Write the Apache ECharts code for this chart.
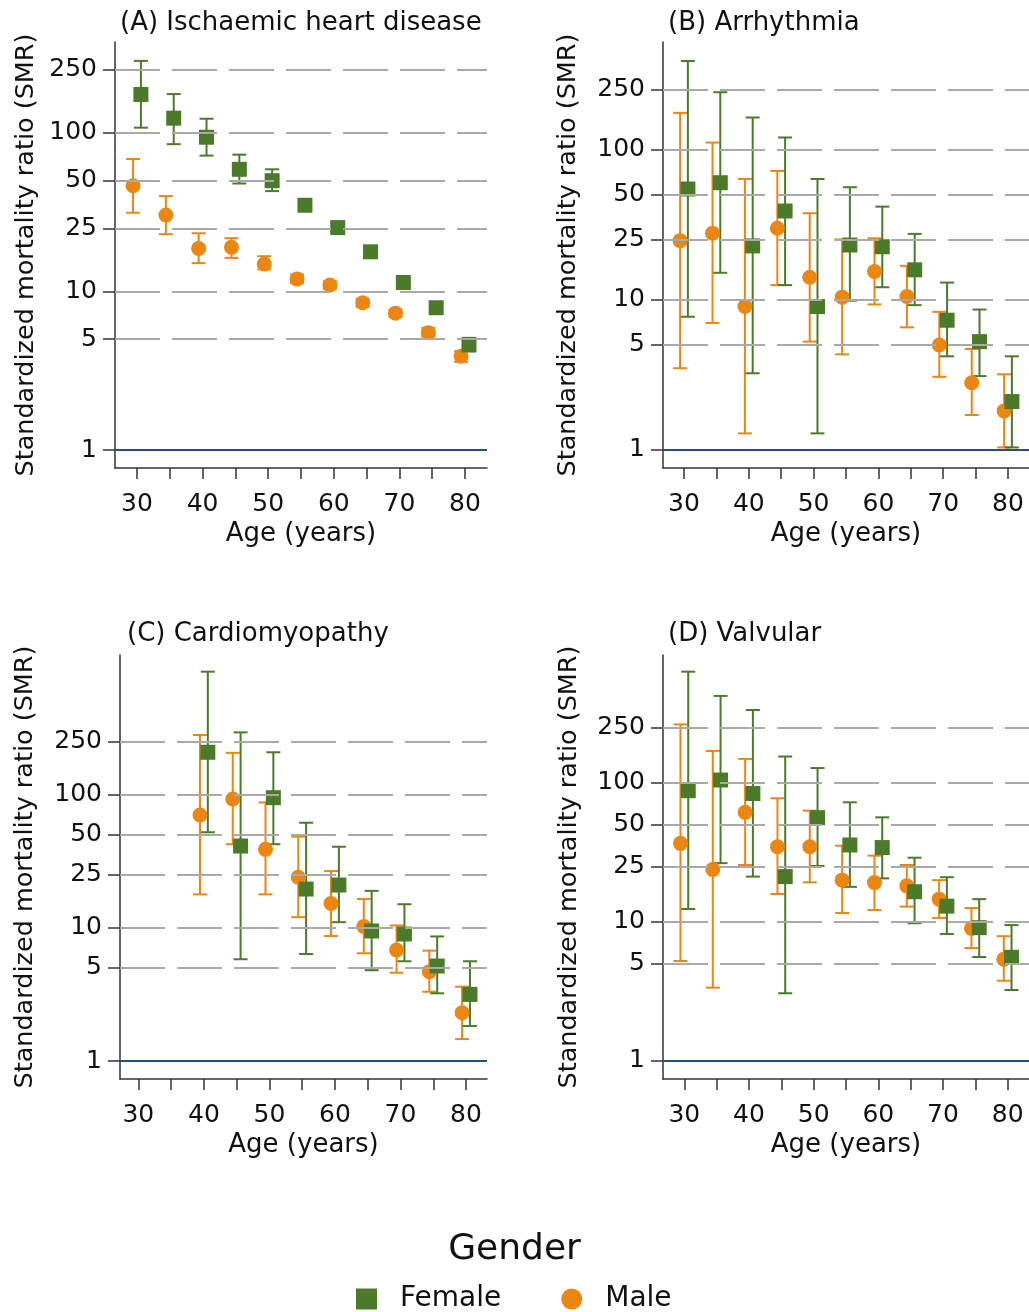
<!DOCTYPE html>
<html><head><meta charset="utf-8">
<script src="https://cdn.jsdelivr.net/npm/echarts@6/dist/echarts.min.js"></script>
<style>html,body{margin:0;padding:0;background:#fff}#c{width:1029px;height:1312px}</style>
</head><body><div id="c"></div>
<script>
// ---------- data ----------
const ages = [30, 35, 40, 45, 50, 55, 60, 65, 70, 75, 80];
const xTickValues = [30, 35, 40, 45, 50, 55, 60, 65, 70, 75, 80];
const xLabelValues = [30, 40, 50, 60, 70, 80];
const yTickValues = [1, 5, 10, 25, 50, 100, 250];
const gridValues = [5, 10, 25, 50, 100, 250];
const panelTitles = ['(A) Ischaemic heart disease', '(B) Arrhythmia', '(C) Cardiomyopathy', '(D) Valvular'];

// (A) Ischaemic heart disease
const ihdFemale   = [175, 124, 94, 59, 50, 35, 25.3, 17.8, 11.4, 7.9, 4.6];
const ihdFemaleLo = [108, 85, 72, 48, 43, 32.5, 23.8, 16.6, 10.7, 7.4, 4.2];
const ihdFemaleHi = [285, 176, 123, 73, 59, 38, 27, 19.1, 12.2, 8.4, 5.1];
const ihdMale     = [46.5, 30.4, 18.7, 19, 14.9, 12.0, 11.0, 8.5, 7.3, 5.5, 3.9];
const ihdMaleLo   = [31.4, 23, 15.1, 16.3, 13.8, 11.3, 10.4, 8.0, 6.9, 5.2, 3.6];
const ihdMaleHi   = [68.5, 40, 23.3, 21.7, 16.7, 12.8, 11.6, 9.0, 7.7, 5.9, 4.2];

// (B) Arrhythmia
const arrFemale   = [54.5, 60, 22.8, 38.9, 9.0, 23.1, 22.5, 15.8, 7.3, 5.26, 2.1];
const arrFemaleLo = [7.7, 15.1, 3.24, 12.5, 1.29, 9.85, 12.1, 9.2, 4.2, 3.1, 1.04];
const arrFemaleHi = [387, 240, 163, 120, 63.5, 56, 41.6, 27.4, 13.0, 8.6, 4.2];
const arrMale     = [24.7, 27.7, 9.0, 29.9, 14.1, 10.4, 15.4, 10.5, 5.0, 2.8, 1.82];
const arrMaleLo   = [3.5, 7.0, 1.29, 12.5, 5.26, 4.33, 9.3, 6.55, 3.07, 1.71, 1.04];
const arrMaleHi   = [175, 111, 63.5, 71.8, 37.6, 25.2, 25.6, 16.8, 8.3, 4.7, 3.19];

// (C) Cardiomyopathy
const cmFemale   = [null, null, 207, 41, 94.5, 19.5, 20.9, 9.45, 8.97, 5.16, 3.16];
const cmFemaleLo = [null, null, 52, 5.8, 42.3, 6.35, 11.0, 4.8, 5.6, 3.22, 1.83];
const cmFemaleHi = [null, null, 833, 292, 207, 61.3, 40.5, 18.9, 15.0, 8.6, 5.6];
const cmMale     = [null, null, 70, 92.4, 38.7, 23.9, 15.2, 10.2, 6.8, 4.68, 2.30];
const cmMaleLo   = [null, null, 17.8, 42.3, 17.8, 12.0, 8.67, 6.43, 4.6, 3.31, 1.46];
const cmMaleHi   = [null, null, 279, 205, 87, 48.2, 26.6, 16.4, 10.4, 6.73, 3.61];

// (D) Valvular
const valFemale   = [88, 105, 84, 21.2, 56.3, 35.8, 34.3, 16.5, 13.0, 9.1, 5.57];
const valFemaleLo = [12.4, 26.5, 21.2, 3.07, 25.3, 17.9, 20.6, 9.8, 8.2, 5.6, 3.24];
const valFemaleHi = [632, 423, 335, 155, 128, 72.6, 56.6, 29, 21.0, 14.6, 9.5];
const valMale     = [36.8, 23.9, 61.5, 34.8, 34.8, 20.0, 19.2, 18.2, 14.6, 9.0, 5.4];
const valMaleLo   = [5.24, 3.37, 25.7, 15.9, 19.3, 11.6, 12.2, 12.9, 10.7, 6.5, 3.78];
const valMaleHi   = [264, 170, 149, 77.6, 63.2, 35.4, 30, 25.7, 20.0, 12.6, 7.9];

// ---------- layout / style ----------
const GREEN = '#4b7a2b', ORANGE = '#ec8612', NAVY = '#24507f', AXIS = '#333333', TXT = '#111111';
const FONT = '"DejaVu Sans", "Liberation Sans", Arial, sans-serif';
const OFFSET = 0.6;

const panels = [
  {grid: {left: 115, top: 42, width: 372, height: 426}, xr: [26.65, 83.35], yr: [0.770, 375], nameGap: 76, title: [120, 10],
   f: [ihdFemale, ihdFemaleLo, ihdFemaleHi], m: [ihdMale, ihdMaleLo, ihdMaleHi]},
  {grid: {left: 663, top: 42, width: 366, height: 426}, xr: [26.76, 83.24], yr: [0.759, 518], nameGap: 82, title: [668, 10],
   f: [arrFemale, arrFemaleLo, arrFemaleHi], m: [arrMale, arrMaleLo, arrMaleHi]},
  {grid: {left: 120, top: 655, width: 367, height: 424}, xr: [27.2, 83.2], yr: [0.733, 1111], nameGap: 82, title: [127, 621],
   f: [cmFemale, cmFemaleLo, cmFemaleHi], m: [cmMale, cmMaleLo, cmMaleHi]},
  {grid: {left: 663, top: 655, width: 366, height: 424}, xr: [26.7, 83.3], yr: [0.742, 833], nameGap: 81, title: [668, 621],
   f: [valFemale, valFemaleLo, valFemaleHi], m: [valMale, valMaleLo, valMaleHi]}
];

function ciRender(color) {
  return function (params, api) {
    const x = api.value(0), lo = api.value(1), hi = api.value(2);
    const p1 = api.coord([x, lo]), p2 = api.coord([x, hi]);
    const w = 7;
    const st = {stroke: color, lineWidth: 2};
    return {type: 'group', children: [
      {type: 'line', shape: {x1: p1[0], y1: p1[1], x2: p2[0], y2: p2[1]}, style: st},
      {type: 'line', shape: {x1: p1[0] - w, y1: p1[1], x2: p1[0] + w, y2: p1[1]}, style: st},
      {type: 'line', shape: {x1: p2[0] - w, y1: p2[1], x2: p2[0] + w, y2: p2[1]}, style: st}
    ]};
  };
}

const grids = [], xAxes = [], yAxes = [], series = [], titles = [];
panels.forEach((p, i) => {
  grids.push(Object.assign({containLabel: false}, p.grid));
  xAxes.push({
    type: 'value', gridIndex: i, min: p.xr[0], max: p.xr[1],
    axisLine: {onZero: false, lineStyle: {color: AXIS, width: 1.5}},
    axisTick: {show: true, length: 11, customValues: xTickValues, lineStyle: {color: AXIS, width: 1.5}},
    axisLabel: {customValues: xLabelValues, fontSize: 25, color: TXT, fontFamily: FONT, margin: 24},
    splitLine: {show: false},
    name: 'Age (years)', nameLocation: 'middle', nameGap: 53,
    nameTextStyle: {fontSize: 26, color: TXT, fontFamily: FONT}
  });
  yAxes.push({
    type: 'log', logBase: 10, gridIndex: i, min: p.yr[0], max: p.yr[1],
    axisLine: {show: true, onZero: false, lineStyle: {color: AXIS, width: 1.5}},
    axisTick: {show: true, length: 12, customValues: yTickValues, lineStyle: {color: AXIS, width: 1.5}},
    axisLabel: {customValues: yTickValues, fontSize: 25, color: TXT, fontFamily: FONT, margin: 18,
      formatter: v => String(+Number(v).toPrecision(6))},
    splitLine: {show: false},
    name: 'Standardized mortality ratio (SMR)', nameLocation: 'middle', nameGap: p.nameGap,
    nameTextStyle: {fontSize: 25.5, color: TXT, fontFamily: FONT}
  });
  titles.push({text: panelTitles[i], left: p.title[0], top: p.title[1], padding: 0,
    textStyle: {fontSize: 26, fontWeight: 'normal', color: TXT, fontFamily: FONT}});

  // reference lines
  series.push({
    type: 'scatter', name: 'ref' + i, xAxisIndex: i, yAxisIndex: i, data: [], z: 1, silent: true,
    markLine: {silent: true, symbol: 'none', animation: false, label: {show: false},
      data: gridValues.map(v => ({yAxis: v, lineStyle: {color: '#a9a9a9', width: 2, type: [45, 12]}}))
        .concat([{yAxis: 1, lineStyle: {color: NAVY, width: 2, type: 'solid'}}])}
  });
  const mk = (arr, off) => ages.map((a, k) => arr[0][k] == null ? null : [a + off, arr[1][k], arr[2][k]]).filter(d => d);
  const pts = (arr, off) => ages.map((a, k) => arr[0][k] == null ? null : [a + off, arr[0][k]]).filter(d => d);
  series.push({type: 'custom', name: 'MaleCI', xAxisIndex: i, yAxisIndex: i, z: 2, silent: true,
    renderItem: ciRender(ORANGE), encode: {x: 0, y: [1, 2]}, data: mk(p.m, -OFFSET)});
  series.push({type: 'custom', name: 'FemaleCI', xAxisIndex: i, yAxisIndex: i, z: 2, silent: true,
    renderItem: ciRender(GREEN), encode: {x: 0, y: [1, 2]}, data: mk(p.f, OFFSET)});
  series.push({type: 'scatter', name: 'Male', xAxisIndex: i, yAxisIndex: i, z: 3, symbol: 'circle', symbolSize: 15,
    itemStyle: {color: ORANGE, opacity: 1}, data: pts(p.m, -OFFSET)});
  series.push({type: 'scatter', name: 'Female', xAxisIndex: i, yAxisIndex: i, z: 4, symbol: 'rect', symbolSize: 15,
    itemStyle: {color: GREEN, opacity: 1}, data: pts(p.f, OFFSET)});
});

titles.push({text: 'Gender', left: 'center', top: 1232, padding: 0,
  textStyle: {fontSize: 36, fontWeight: 'normal', color: TXT, fontFamily: FONT}});

const chart = echarts.init(document.getElementById('c'), null, {renderer: 'canvas'});
chart.setOption({
  animation: false,
  backgroundColor: '#ffffff',
  title: titles,
  grid: grids, xAxis: xAxes, yAxis: yAxes, series: series,
  legend: {
    left: 356, top: 1285, padding: 0, itemWidth: 21, itemHeight: 21, itemGap: 60,
    data: [{name: 'Female', icon: 'rect'}, {name: 'Male', icon: 'circle'}],
    textStyle: {fontSize: 28, color: TXT, fontFamily: FONT, padding: [0, 0, 0, 18]}
  }
});
</script></body></html>
